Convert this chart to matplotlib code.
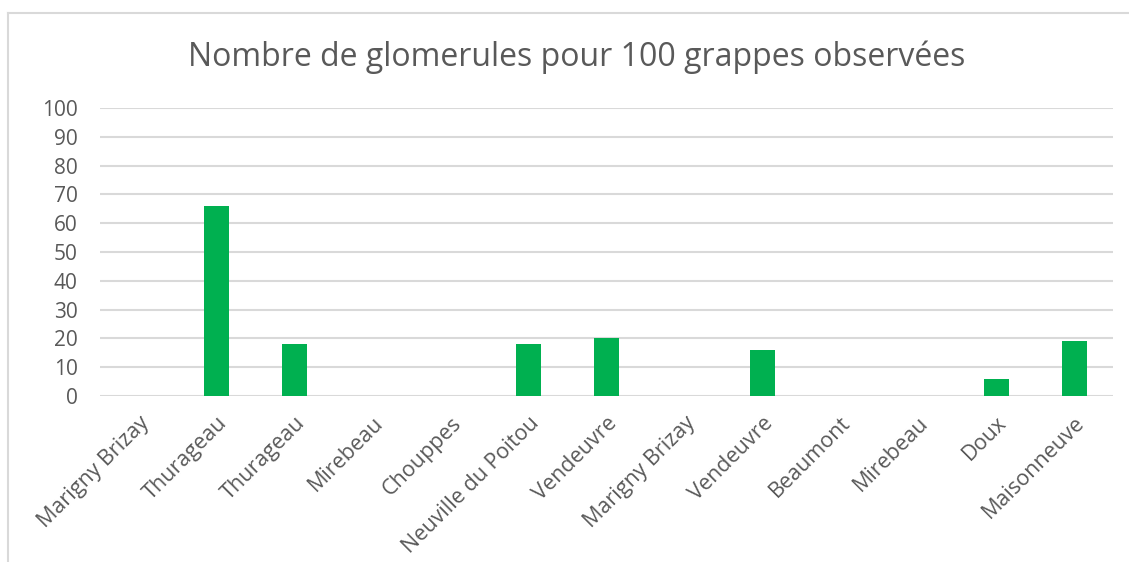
import matplotlib.pyplot as plt
from matplotlib.lines import Line2D

categories = ["Marigny Brizay", "Thurageau", "Thurageau", "Mirebeau", "Chouppes",
              "Neuville du Poitou", "Vendeuvre", "Marigny Brizay", "Vendeuvre",
              "Beaumont", "Mirebeau", "Doux", "Maisonneuve"]
values = [0, 66, 18, 0, 0, 18, 20, 0, 16, 0, 0, 6, 19]
yticks = list(range(0, 101, 10))

plt.rcParams['font.family'] = ['Open Sans', 'DejaVu Sans']
TEXT = "#595959"
GRID = "#d9d9d9"

W, H = 1129, 562
fig = plt.figure(figsize=(W / 100, H / 100), dpi=100)
ax = fig.add_axes([100 / W, 1 - 396 / H, 1013 / W, 288 / H])

x = range(len(categories))
ax.bar(x, values, width=0.32, color="#00b050", zorder=3)

ax.set_xlim(-0.5, len(categories) - 0.5)
ax.set_ylim(0, 100)
ax.set_yticks(yticks)
ax.grid(axis="y", color=GRID, linewidth=1.5, zorder=0)
ax.set_axisbelow(True)
for s in ax.spines.values():
    s.set_visible(False)
ax.tick_params(axis="both", length=0, colors=TEXT)
ax.tick_params(axis="y", pad=16, labelsize=15)
ax.set_xticks(list(x))
ax.set_xticklabels(categories, rotation=45, ha="right", rotation_mode="anchor")
ax.tick_params(axis="x", pad=12, labelsize=15.5)

fig.text(577 / W, 1 - 57 / H, "Nombre de glomerules pour 100 grappes observées",
         ha="center", va="center", fontsize=23, color=TEXT)

# chart frame
fig.add_artist(Line2D([8 / W, 8 / W], [0, 1 - 13 / H], color=GRID, linewidth=1.5))
fig.add_artist(Line2D([8 / W, 1], [1 - 13 / H, 1 - 13 / H], color=GRID, linewidth=1.5))

fig.savefig("out.png", dpi=100)
